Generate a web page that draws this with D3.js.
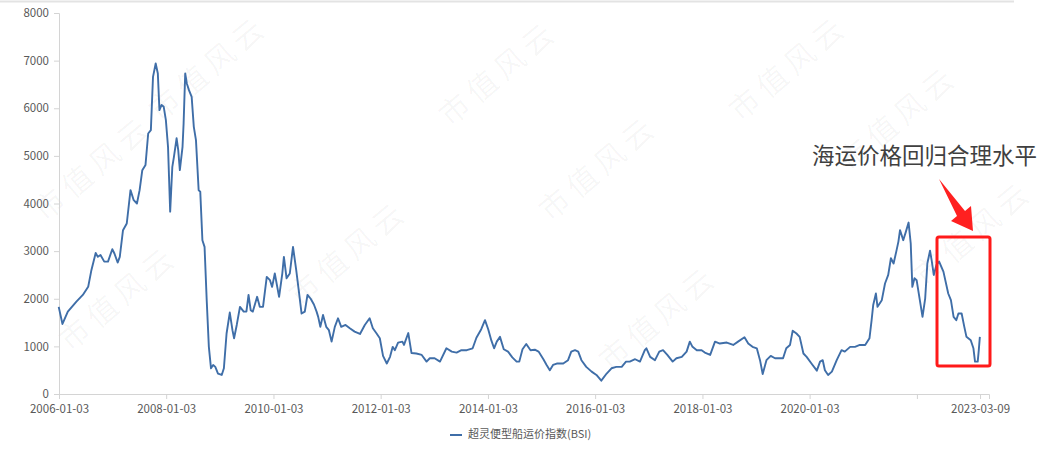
<!DOCTYPE html>
<html>
<head>
<meta charset="utf-8">
<script src="https://cdn.jsdelivr.net/npm/d3@7"></script>
<style>
  html, body { margin: 0; padding: 0; background: #ffffff; }
  svg { display: block; }
</style>
</head>
<body>
<div id="chart"></div>
<script>
// ---- data (decimal year, BSI value) ----
const years = [
  2006.00,2006.07,2006.17,2006.33,2006.45,2006.55,2006.61,2006.69,2006.73,2006.78,2006.85,2006.92,
  2007.00,2007.04,2007.10,2007.14,2007.20,2007.27,2007.34,2007.40,2007.46,2007.51,2007.56,2007.62,
  2007.67,2007.72,2007.76,2007.81,2007.85,2007.88,2007.92,2007.96,2008.00,2008.04,2008.08,2008.12,
  2008.15,2008.20,2008.23,2008.26,2008.31,2008.33,2008.36,2008.39,2008.43,2008.48,2008.52,2008.56,
  2008.61,2008.64,2008.68,2008.72,2008.76,2008.80,2008.84,2008.88,2008.92,2008.97,2009.04,2009.08,
  2009.13,2009.19,2009.24,2009.27,2009.32,2009.38,2009.45,2009.50,2009.54,2009.58,2009.62,2009.70,
  2009.75,2009.81,2009.88,2009.94,2009.98,2010.03,2010.11,2010.17,2010.20,2010.25,2010.31,2010.37,
  2010.43,2010.48,2010.53,2010.59,2010.64,2010.70,2010.76,2010.81,2010.84,2010.88,2010.93,2010.99,
  2011.04,2011.09,2011.15,2011.21,2011.27,2011.35,2011.43,2011.52,2011.62,2011.71,2011.80,2011.86,
  2011.93,2011.99,2012.05,2012.12,2012.18,2012.23,2012.27,2012.33,2012.41,2012.44,2012.52,2012.58,
  2012.67,2012.77,2012.86,2012.92,2013.01,2013.11,2013.23,2013.33,2013.42,2013.51,2013.61,2013.72,
  2013.79,2013.88,2013.95,2014.01,2014.07,2014.12,2014.17,2014.23,2014.30,2014.38,2014.46,2014.54,
  2014.59,2014.65,2014.72,2014.80,2014.88,2014.95,2015.04,2015.10,2015.16,2015.22,2015.29,2015.41,
  2015.50,2015.56,2015.63,2015.69,2015.75,2015.84,2015.94,2016.03,2016.12,2016.22,2016.31,2016.40,
  2016.50,2016.58,2016.65,2016.75,2016.84,2016.93,2016.96,2017.03,2017.12,2017.20,2017.27,2017.35,
  2017.45,2017.52,2017.62,2017.71,2017.77,2017.82,2017.90,2017.99,2018.05,2018.15,2018.24,2018.33,
  2018.46,2018.58,2018.67,2018.79,2018.86,2018.94,2019.02,2019.08,2019.13,2019.20,2019.28,2019.36,
  2019.45,2019.51,2019.57,2019.64,2019.69,2019.76,2019.82,2019.89,2019.95,2020.04,2020.14,2020.20,
  2020.25,2020.29,2020.35,2020.42,2020.51,2020.60,2020.66,2020.76,2020.85,2020.94,2021.04,2021.12,
  2021.16,2021.19,2021.24,2021.27,2021.35,2021.41,2021.47,2021.52,2021.57,2021.62,2021.66,2021.69,
  2021.72,2021.75,2021.80,2021.85,2021.89,2021.92,2021.96,2022.00,2022.06,2022.11,2022.16,2022.20,
  2022.25,2022.28,2022.32,2022.37,2022.42,2022.50,2022.59,2022.64,2022.69,2022.74,2022.78,2022.84,
  2022.89,2022.93,2023.01,2023.06,2023.09,2023.14,2023.16,2023.18
];
const bsi = [
  1830,1470,1730,1940,2080,2250,2600,2960,2880,2920,2780,2780,
  3040,2950,2760,2880,3440,3580,4280,4070,4000,4280,4700,4810,
  5470,5540,6660,6940,6730,5960,6070,6030,5750,5190,3830,4770,
  4980,5370,5120,4700,5190,5680,6730,6520,6380,6240,5610,5330,
  4280,4250,3230,3090,1970,990,540,610,570,430,400,540,
  1270,1710,1340,1170,1450,1830,1730,1730,2080,1760,1730,2040,
  1830,1830,2460,2390,2250,2530,2040,2530,2880,2430,2530,3090,
  2600,2150,1690,1730,2080,2000,1880,1730,1620,1410,1660,1410,
  1340,1100,1410,1590,1410,1450,1380,1310,1260,1450,1590,1380,
  1270,1170,800,640,780,990,920,1080,1100,1030,1280,860,
  850,820,680,750,750,680,960,890,870,920,920,960,
  1180,1360,1550,1360,1120,960,1100,1200,940,890,770,680,
  680,940,1050,920,930,890,730,610,500,610,640,640,
  710,890,920,890,710,570,470,400,280,430,540,570,
  570,680,680,730,680,920,960,780,710,890,920,820,
  680,750,780,890,1100,990,920,920,870,820,1100,1060,
  1080,1030,1100,1190,1060,990,960,710,420,710,800,750,
  750,750,960,1030,1330,1270,1200,850,780,640,490,680,
  710,500,400,470,710,920,890,990,990,1030,1030,1170,
  1550,1870,2110,1830,1970,2320,2500,2850,2740,2990,3200,3440,
  3340,3230,3410,3600,3160,2250,2430,2390,1970,1620,2010,2740,
  3010,2810,2500,2710,2780,2570,2110,1970,1620,1550,1690,1690,
  1410,1200,1130,960,680,680,920,1200
];
const yTicks = [0,1000,2000,3000,4000,5000,6000,7000,8000];
const xTickDates = ["2006-01-03","2008-01-03","2010-01-03","2012-01-03","2014-01-03",
                    "2016-01-03","2018-01-03","2020-01-03","2022-01-03","2023-03-09"];
const xTickLabels = ["2006-01-03","2008-01-03","2010-01-03","2012-01-03","2014-01-03",
                     "2016-01-03","2018-01-03","2020-01-03","","2023-03-09"];
const seriesName = "超灵便型船运价指数(BSI)";
const annotation = "海运价格回归合理水平";
const watermark = "市值风云";

// ---- helpers ----
function yearToDate(y) {
  const yr = Math.floor(y);
  const s = Date.UTC(yr, 0, 1), e = Date.UTC(yr + 1, 0, 1);
  return new Date(s + (y - yr) * (e - s));
}
const parse = d3.utcParse("%Y-%m-%d");

const W = 1064, H = 456;
const svg = d3.select("#chart").append("svg").attr("width", W).attr("height", H);

// watermarks (faint), kept inside the picture
const wmPos = [[210,70],[500,75],[790,70],[95,170],[600,170],[900,120],[120,300],[350,255],[660,320],[975,235]];
svg.append("g").selectAll("text").data(wmPos).join("text")
  .attr("transform", d => `translate(${d[0]},${d[1]}) rotate(-40)`)
  .attr("text-anchor", "middle")
  .attr("dominant-baseline", "middle")
  .attr("font-family", "'Noto Sans CJK SC'")
  .attr("font-size", 30)
  .attr("fill", "#000")
  .attr("fill-opacity", 0.04)
  .attr("letter-spacing", 6)
  .text(watermark);

// top frame line
svg.append("line").attr("x1", 0).attr("x2", 1014).attr("y1", 1.5).attr("y2", 1.5)
  .attr("stroke", "#e3e3e3").attr("stroke-width", 2);

const x = d3.scaleUtc()
  .domain([parse("2006-01-03"), parse("2023-05-09")])
  .range([59, 989]);
const y = d3.scaleLinear().domain([0, 8000]).range([394, 13]);

const axisColor = "#d4d4d4";
const labelColor = "#595959";
const fontFam = "'Noto Sans CJK SC', 'Open Sans', sans-serif";

// Y axis
const gy = svg.append("g").attr("transform", "translate(59,0)")
  .call(d3.axisLeft(y).tickValues(yTicks).tickSize(5).tickPadding(5).tickFormat(d3.format("d")));
gy.select(".domain").attr("stroke", axisColor);
gy.selectAll(".tick line").attr("stroke", axisColor);
gy.selectAll(".tick text").attr("fill", labelColor).attr("font-size", 11.5).attr("font-family", fontFam);

// X axis
const gx = svg.append("g").attr("transform", "translate(0,394)")
  .call(d3.axisBottom(x).tickValues(xTickDates.map(parse)).tickSize(5).tickPadding(6)
    .tickFormat((d, i) => xTickLabels[i]));
gx.select(".domain").attr("stroke", axisColor);
gx.selectAll(".tick line").attr("stroke", axisColor);
gx.selectAll(".tick text").attr("fill", labelColor).attr("font-size", 11.5).attr("font-family", fontFam);

// line
const data = years.map((yr, i) => ({ date: yearToDate(yr), v: bsi[i] }));
svg.append("path").datum(data)
  .attr("fill", "none")
  .attr("stroke", "#3f6ea8")
  .attr("stroke-width", 1.9)
  .attr("stroke-linejoin", "round")
  .attr("d", d3.line().x(d => x(d.date)).y(d => y(d.v)));

// legend
svg.append("line").attr("x1", 450).attr("x2", 462).attr("y1", 435).attr("y2", 435)
  .attr("stroke", "#3f6ea8").attr("stroke-width", 2);
svg.append("text").attr("x", 468).attr("y", 435).attr("dominant-baseline", "middle")
  .attr("font-family", fontFam).attr("font-size", 11).attr("fill", labelColor)
  .text(seriesName);

// annotation text
svg.append("text").attr("x", 812).attr("y", 158).attr("dominant-baseline", "middle")
  .attr("font-family", fontFam).attr("font-size", 22.5).attr("fill", "#404040")
  .text(annotation);

// arrow
svg.append("path")
  .attr("d", "M939,179 L965,211 L971,206 L973,231 L951,221 L957,216 Z")
  .attr("fill", "#ff2020");

// red box
svg.append("rect").attr("x", 937).attr("y", 237).attr("width", 53).attr("height", 129)
  .attr("rx", 2).attr("fill", "none").attr("stroke", "#ff1a1a").attr("stroke-width", 3);
</script>
</body>
</html>
